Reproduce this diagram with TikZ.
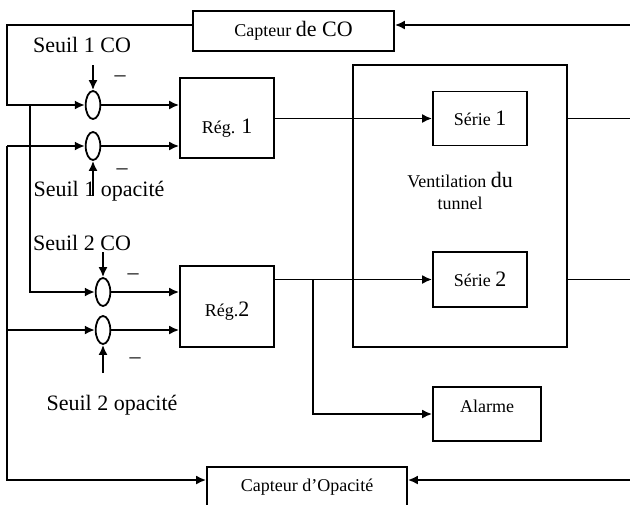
\documentclass[tikz,border=0pt]{standalone}
\usepackage{fontspec}
\setmainfont{Liberation Serif}
\usetikzlibrary{arrows.meta,shapes.geometric}

\newcommand{\grand}[1]{{\fontsize{11}{13}\selectfont #1}}

\begin{document}
\begin{tikzpicture}[x=0.5pt,y=-0.5pt,>={Latex[length=5pt,width=4.5pt]},
  line width=0.9pt,
  bloc/.style={draw,rectangle,inner sep=0pt,font=\fontsize{9}{11}\selectfont},
  somme/.style={draw,ellipse,minimum width=7.3pt,minimum height=14pt,inner sep=0pt},
  seuil/.style={font=\fontsize{11}{13}\selectfont,inner sep=1pt},
  moins/.style={font=\fontsize{11}{13}\selectfont,inner sep=0pt}]
  \useasboundingbox (0,0) rectangle (630,504);
  % blocs
  \node[bloc,minimum width=100.5pt,minimum height=20pt] (capco) at (293.5,31) {Capteur \grand{de CO}};
  \node[bloc,minimum width=47pt,minimum height=40pt,text height=17pt] (reg1) at (227,118) {Rég. \grand{1}};
  \node[bloc,minimum width=47pt,minimum height=40.5pt,text height=12pt] (reg2) at (227,306.5) {Rég.\grand{2}};
  \node[bloc,minimum width=107pt,minimum height=141pt] (vent) at (460,206) {};
  \node[font=\fontsize{9}{11}\selectfont,align=center] (ventlbl) at (460,191) {Ventilation \grand{du}\\tunnel};
  \node[bloc,minimum width=47pt,minimum height=27pt] (serie1) at (480,118.5) {Série \grand{1}};
  \node[bloc,minimum width=47pt,minimum height=27.5pt] (serie2) at (480,279.5) {Série \grand{2}};
  \node[bloc,minimum width=54pt,minimum height=27pt,text depth=8pt] (alarme) at (487,414) {Alarme};
  \node[bloc,minimum width=100pt,minimum height=20pt] (capop) at (307,487) {Capteur d’Opacité};
  % sommateurs
  \node[somme] (s1) at (93,105) {};
  \node[somme] (s2) at (93,146) {};
  \node[somme] (s3) at (103,292) {};
  \node[somme] (s4) at (103,330) {};
  % consignes
  \node[seuil] (sco1) at (82,45) {Seuil 1 CO};
  \node[seuil] (sop1) at (99,191) {Seuil 1 opacité};
  \node[seuil] (sco2) at (82,243) {Seuil 2 CO};
  \node[seuil] (sop2) at (112,405) {Seuil 2 opacité};
  \node[moins] (m1) at (120,79) {--};
  \node[moins] (m2) at (122,172) {--};
  \node[moins] (m3) at (133,277) {--};
  \node[moins] (m4) at (135,361) {--};
  \coordinate (tco1) at (93,65);
  \coordinate (top1) at (93,196);
  \coordinate (tco2) at (103,252);
  \coordinate (top2) at (103,373);
  \draw[->] (tco1) -- (s1.north);
  \draw[->] (top1) -- (s2.south);
  \draw[->] (tco2) -- (s3.north);
  \draw[->] (top2) -- (s4.south);
  % boucle CO
  \coordinate (inco) at (630,25);
  \coordinate (lco) at (7,105);
  \coordinate (jco) at (30,105);
  \draw[->] (inco) -- (inco -| capco.east);
  \draw[->] (inco -| capco.west) -| (lco) -- (s1.west);
  \draw[->] (jco) |- (s3.west);
  % boucle opacite
  \coordinate (inop) at (630,480);
  \coordinate (lop) at (7,146);
  \draw[->] (inop) -- (inop -| capop.east);
  \draw[->] (lop) |- (inop -| capop.west);
  \draw[->] (lop) -- (s2.west);
  \draw[->] (lop |- s4) -- (s4.west);
  % vers regulateurs
  \draw[->] (s1.east) -- (s1.east -| reg1.west);
  \draw[->] (s2.east) -- (s2.east -| reg1.west);
  \draw[->] (s3.east) -- (s3.east -| reg2.west);
  \draw[->] (s4.east) -- (s4.east -| reg2.west);
  % sorties
  \coordinate (out1) at (630,118.5);
  \coordinate (out2) at (630,279.5);
  \coordinate (jal) at (313,279.5);
  \draw[->] (reg1.east |- serie1) -- (serie1.west);
  \draw[->] (reg2.east |- serie2) -- (serie2.west);
  \draw (vent.east |- out1) -- (out1);
  \draw (vent.east |- out2) -- (out2);
  \draw[->] (jal) |- (alarme.west);
\end{tikzpicture}
\end{document}
